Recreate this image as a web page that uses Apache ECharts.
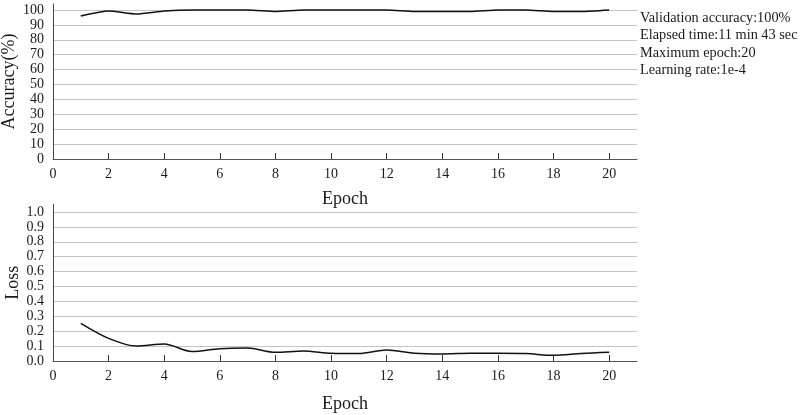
<!DOCTYPE html>
<html>
<head>
<meta charset="utf-8">
<script src="https://cdn.jsdelivr.net/npm/echarts@6/dist/echarts.min.js"></script>
<style>
  html, body { margin: 0; padding: 0; background: #fff; }
  #chart { width: 809px; height: 415px; }
</style>
</head>
<body>
<div id="chart"></div>
<script>
// training curves, values
const epochs = [1, 2, 3, 4, 5, 6, 7, 8, 9, 10, 11, 12, 13, 14, 15, 16, 17, 18, 19, 20]
const accuracy = [96, 99.3, 97.3, 99.3, 100, 100, 100, 98.9, 100, 100, 100, 100, 99, 99, 99, 100, 100, 99, 99, 100]
const loss = [0.253, 0.152, 0.10, 0.114, 0.063, 0.083, 0.087, 0.058, 0.067, 0.052,
  0.05, 0.074, 0.052, 0.047, 0.052, 0.052, 0.05, 0.038, 0.05, 0.058]

const xLabelVals = [0, 2, 4, 6, 8, 10, 12, 14, 16, 18, 20]
const xTickVals = [2, 4, 6, 8, 10, 12, 14, 16, 18, 20]
const accTicks = [0, 10, 20, 30, 40, 50, 60, 70, 80, 90, 100]
const lossTicks = [0, 0.1, 0.2, 0.3, 0.4, 0.5, 0.6, 0.7, 0.8, 0.9, 1.0]

const infoLines = [
  'Validation accuracy:100%',
  'Elapsed time:11 min 43 sec',
  'Maximum epoch:20',
  'Learning rate:1e-4'
]

const font = 'Liberation Serif'
const txt = '#1a1a1a'

function xAxis(gridIndex, gap) {
  return {
    type: 'value', gridIndex: gridIndex, min: 0, max: 21,
    name: 'Epoch', nameLocation: 'middle', nameGap: gap, nameMoveOverlap: false,
    nameTextStyle: { fontFamily: font, fontSize: 18, color: txt },
    axisLine: { lineStyle: { color: '#555', width: 1 } },
    axisTick: { inside: true, length: 6, customValues: xTickVals, lineStyle: { color: '#333' } },
    axisLabel: { customValues: xLabelVals, fontFamily: font, fontSize: 14, color: txt, margin: 8 },
    splitLine: { show: false }
  }
}

function yAxis(gridIndex, name, gap, max, ticks, fmt) {
  return {
    type: 'value', gridIndex: gridIndex, min: 0, max: max,
    name: name, nameLocation: 'middle', nameGap: gap, nameMoveOverlap: false,
    nameTextStyle: { fontFamily: font, fontSize: 18, color: txt },
    axisLine: { show: true, lineStyle: { color: '#444', width: 1 } },
    axisTick: { show: false, customValues: ticks },
    axisLabel: { customValues: ticks, formatter: fmt, fontFamily: font, fontSize: 14, color: txt, margin: 9 },
    splitLine: { show: true, lineStyle: { color: '#c4c4c4', width: 1 } }
  }
}

const chart = echarts.init(document.getElementById('chart'), null, { renderer: 'canvas' })

chart.setOption({
  backgroundColor: '#fff',
  animation: false,
  grid: [
    { left: 53, top: 4, width: 584, height: 155, outerBoundsMode: 'none', containLabel: false },
    { left: 53, top: 204.5, width: 584, height: 156.5, outerBoundsMode: 'none', containLabel: false }
  ],
  xAxis: [xAxis(0, 31), xAxis(1, 34)],
  yAxis: [
    yAxis(0, 'Accuracy(%)', 35, 104, accTicks, v => String(v)),
    yAxis(1, 'Loss', 31, 1.05, lossTicks, v => v.toFixed(1))
  ],
  graphic: [{
    type: 'text', left: 640, top: 9,
    style: {
      text: infoLines.join('\n'), fontFamily: font, fontSize: 14.3,
      lineHeight: 17.5, fill: txt
    }
  }],
  series: [
    {
      type: 'line', xAxisIndex: 0, yAxisIndex: 0, showSymbol: false, smooth: 0.2,
      data: epochs.map((e, i) => [e, accuracy[i]]),
      lineStyle: { color: '#111', width: 1.5 }
    },
    {
      type: 'line', xAxisIndex: 1, yAxisIndex: 1, showSymbol: false, smooth: 0.3,
      data: epochs.map((e, i) => [e, loss[i]]),
      lineStyle: { color: '#111', width: 1.5 }
    }
  ]
})
</script>
</body>
</html>
